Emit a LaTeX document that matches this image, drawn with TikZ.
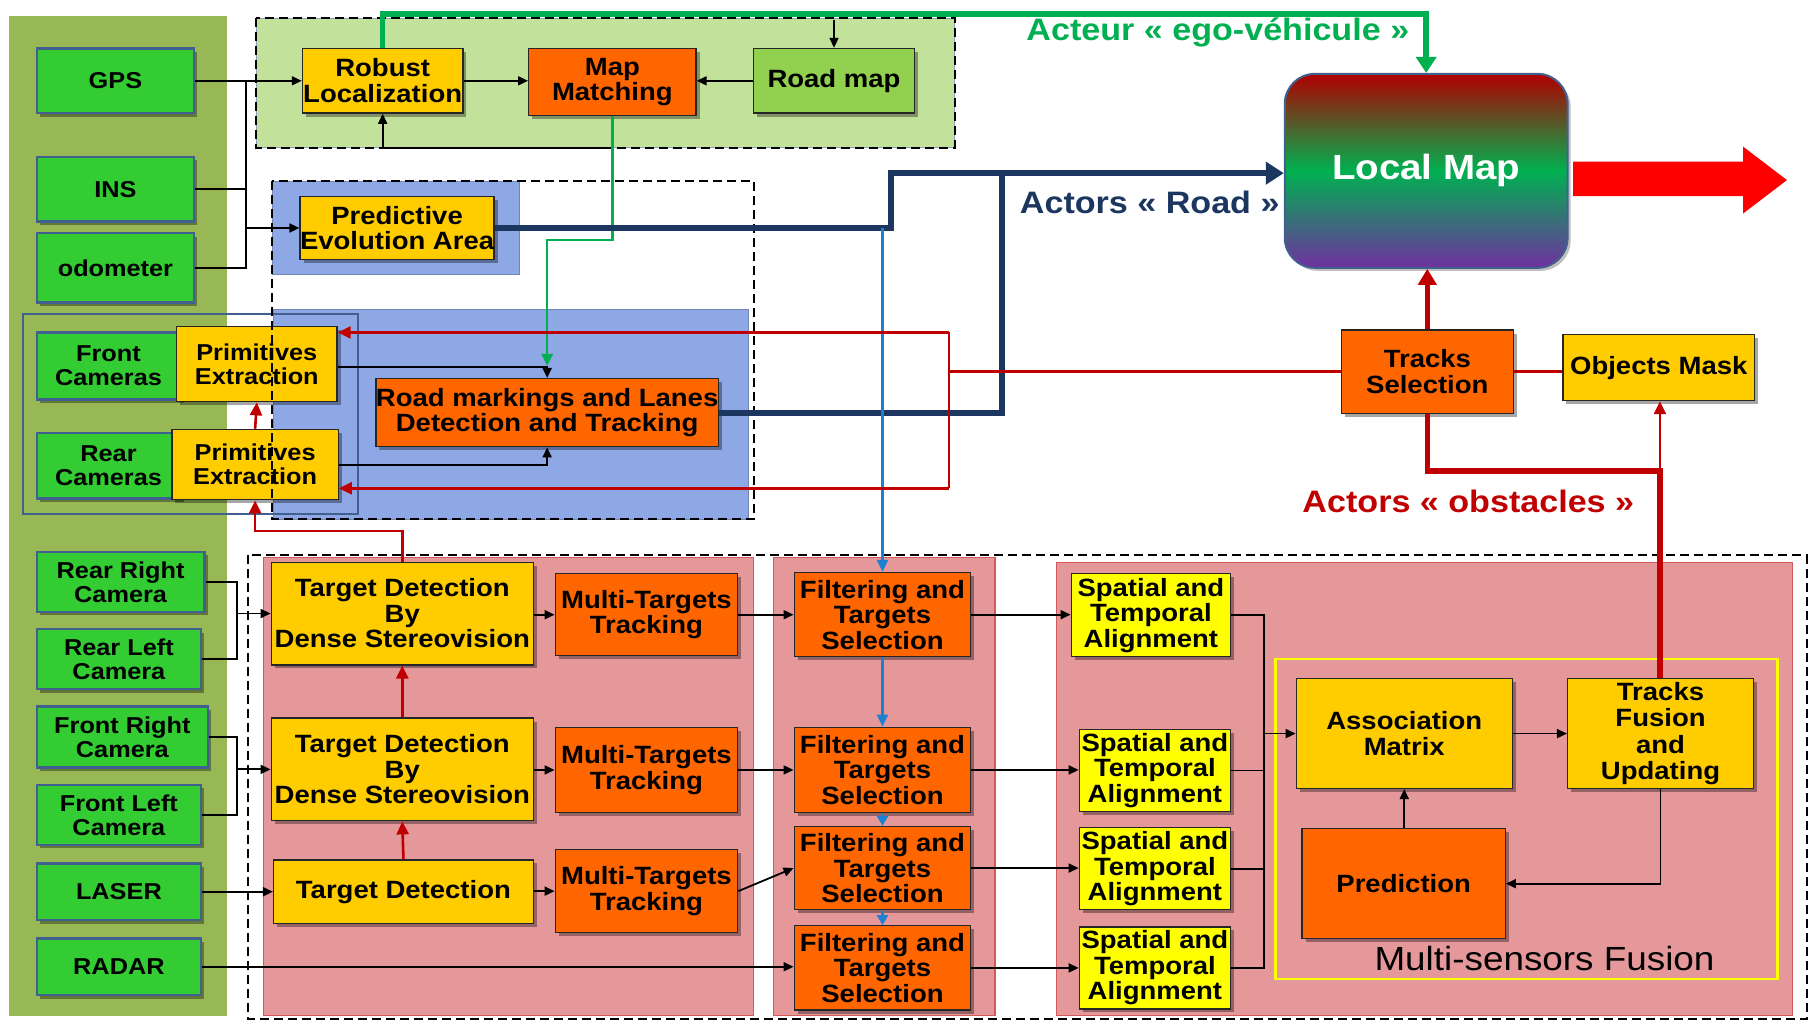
\documentclass[tikz,border=0pt]{standalone}
\usepackage{fontspec}
\setmainfont{Liberation Sans}[FakeStretch=1.1]
\usetikzlibrary{shadows,arrows.meta,calc}

\definecolor{panel}{HTML}{97B855}
\definecolor{sens}{HTML}{33CC33}
\definecolor{sensb}{HTML}{41608F}
\definecolor{gold}{HTML}{FFCC00}
\definecolor{orng}{HTML}{FF6600}
\definecolor{yel}{HTML}{FFFF00}
\definecolor{roadmap}{HTML}{92D050}
\definecolor{locbg}{HTML}{C2E19B}
\definecolor{bluebg}{HTML}{8DA8E4}
\definecolor{pink}{HTML}{E4989A}
\definecolor{pinkb}{HTML}{D25A5A}
\definecolor{navy}{HTML}{1C375F}
\definecolor{dred}{HTML}{C00000}
\definecolor{egog}{HTML}{00B050}
\definecolor{lblue}{HTML}{1E80D2}
\definecolor{lmtop}{HTML}{B00000}
\definecolor{lmmid}{HTML}{00B050}
\definecolor{lmbot}{HTML}{7030A0}

\newcommand\txtA{\bfseries\fontsize{25}{25.5}\selectfont}
\newcommand\txtS{\bfseries\fontsize{23}{24}\selectfont}
\newcommand\txtL{\bfseries\fontsize{31}{33}\selectfont}

\begin{document}
\begin{tikzpicture}[x=1.1543pt,y=-1.1543pt,
  % a node spanning the rectangle (x1,y1)--(x2,y2), given in drawing units
  span/.style n args={4}{at={({(#1+#3)/2},{(#2+#4)/2})},
    minimum width={(#3-#1)*1.1543pt}, minimum height={(#4-#2)*1.1543pt}},
  box/.style={draw=black!85, line width=1.3pt, inner sep=0pt, align=center,
    font=\txtA,
    drop shadow={shadow xshift=3.5pt,shadow yshift=-3.5pt,opacity=0.35,fill=black}},
  sensor/.style={box, fill=sens, draw=sensb, line width=2.4pt, font=\txtS},
  goldbox/.style={box, fill=gold},
  orbox/.style={box, fill=orng},
  yelbox/.style={box, fill=yel},
  ar/.style={line width=1.8pt, -{Triangle[length=10pt,width=9pt]}},
  ln/.style={line width=1.8pt},
  redthin/.style={dred, line width=2.6pt},
  redar/.style={redthin, -{Triangle[length=13pt,width=12pt]}},
  redthick/.style={dred, line width=5.5pt},
  dashbox/.style={draw=black, line width=2pt, dash pattern=on 9pt off 5pt},
  label/.style={font=\txtL, inner sep=0pt}
]
\useasboundingbox (0,0) rectangle (1568,885);

% ---- background areas ----
\fill[panel] (8,14) rectangle (197,880);
\filldraw[fill=locbg, draw=sensb!60, line width=1pt] (222,16) rectangle (827,128);
\filldraw[fill=bluebg, draw=bluebg!80!black, line width=0.6pt] (236,157) rectangle (450,238);
\filldraw[fill=bluebg, draw=bluebg!80!black, line width=0.6pt] (237,268) rectangle (648,450);
\filldraw[fill=pink, draw=pinkb, line width=1.2pt] (228,483) rectangle (653,880);
\filldraw[fill=pink, draw=pinkb, line width=1.2pt] (670,483) rectangle (862,880);
\filldraw[fill=pink, draw=pinkb, line width=1.2pt] (915,487) rectangle (1553,880);
\draw[yel, line width=2.4pt] (1105,571) rectangle (1540,848);
\draw[sensb, line width=2.2pt] (20,272) rectangle (310,445);

% ---- sensors ----
\node[sensor, span={32}{42}{168}{98}] (gps) {GPS};
\node[sensor, span={32}{136}{168}{192}] (ins) {INS};
\node[sensor, span={32}{202}{168}{262}] (odo) {odometer};
\node[sensor, span={32}{288}{156}{346}] (fcam) {Front\\Cameras};
\node[sensor, span={32}{375}{156}{432}] (rcam) {Rear\\Cameras};
\node[sensor, span={32}{478}{177}{530}] (rrc) {Rear Right\\Camera};
\node[sensor, span={32}{545}{174}{597}] (rlc) {Rear Left\\Camera};
\node[sensor, span={32}{612}{180}{665}] (frc) {Front Right\\Camera};
\node[sensor, span={32}{680}{174}{732}] (flc) {Front Left\\Camera};
\node[sensor, span={32}{748}{174}{797}] (laser) {LASER};
\node[sensor, span={32}{813}{174}{862}] (radar) {RADAR};

% ---- processing blocks ----
\node[goldbox, font=\txtS, span={153}{283}{292}{348}] (pef) {Primitives\\Extraction};
\node[goldbox, font=\txtS, span={149}{372}{293}{433}] (per) {Primitives\\Extraction};
\node[goldbox, span={262}{42}{401}{98}] (rl) {Robust\\Localization};
\node[orbox, span={458}{42}{603}{100}] (mm) {Map\\Matching};
\node[box, fill=roadmap, span={653}{42}{792}{98}] (rm) {Road map};
\node[goldbox, span={260}{170}{428}{225}] (pea) {Predictive\\Evolution Area};
\node[orbox, span={326}{328}{622}{387}] (rmk) {Road markings and Lanes\\Detection and Tracking};

\node[goldbox, span={235}{487}{462}{576}] (td1) {Target Detection\\By\\Dense Stereovision};
\node[orbox, span={481}{497}{639}{568}] (mt1) {Multi-Targets\\Tracking};
\node[goldbox, span={235}{622}{462}{711}] (td2) {Target Detection\\By\\Dense Stereovision};
\node[orbox, span={481}{630}{639}{704}] (mt2) {Multi-Targets\\Tracking};
\node[goldbox, span={237}{745}{462}{800}] (td3) {Target Detection};
\node[orbox, span={481}{736}{639}{808}] (mt3) {Multi-Targets\\Tracking};

\node[orbox, span={688}{496}{841}{569}] (f1) {Filtering and\\Targets\\Selection};
\node[orbox, span={688}{630}{841}{704}] (f2) {Filtering and\\Targets\\Selection};
\node[orbox, span={688}{716}{841}{788}] (f3) {Filtering and\\Targets\\Selection};
\node[orbox, span={688}{802}{841}{875}] (f4) {Filtering and\\Targets\\Selection};

\node[yelbox, span={928}{497}{1066}{569}] (s1) {Spatial and\\Temporal\\Alignment};
\node[yelbox, span={935}{632}{1066}{703}] (s2) {Spatial and\\Temporal\\Alignment};
\node[yelbox, span={935}{717}{1066}{788}] (s3) {Spatial and\\Temporal\\Alignment};
\node[yelbox, span={935}{803}{1066}{874}] (s4) {Spatial and\\Temporal\\Alignment};

\node[goldbox, span={1123}{588}{1310}{683}] (am) {Association\\Matrix};
\node[goldbox, span={1358}{588}{1519}{683}, font=\bfseries\fontsize{25}{26.5}\selectfont] (tf) {Tracks\\Fusion\\and\\Updating};
\node[orbox, span={1128}{718}{1304}{813}] (pred) {Prediction};
\node[label, text=black, font=\fontsize{33.5}{36}\selectfont] (msf) at (1338,830) {Multi-sensors Fusion};

\node[orbox, span={1162}{286}{1311}{358}] (ts) {Tracks\\Selection};
\node[goldbox, span={1354}{290}{1520}{347}] (om) {Objects Mask};

\node[span={1113}{64}{1358}{232}, inner sep=0pt, rounded corners=30pt,
  top color=lmtop, bottom color=lmbot, middle color=lmmid,
  draw=sensb, line width=2pt, text=white, font=\bfseries\fontsize{35}{36}\selectfont,
  drop shadow={shadow xshift=3pt,shadow yshift=-3pt,opacity=0.25,fill=black}] (lm) {Local Map};

% ---- dashed groups ----
\draw[dashbox] (222,16) rectangle (827,128);
\draw[dashbox] (236,157) rectangle (653,450);
\draw[dashbox] (215,481) rectangle (1565,883);

% ---- output arrow ----
\fill[red] ($(lm.east)+(4,-8)$) -- (1510,140) -- (1510,127) -- (1548,156)
  -- (1510,185) -- (1510,170) -- ($(lm.east)+(4,22)$) -- cycle;

% ---- ego-vehicle branch ----
\coordinate (egy) at (0,12);
\draw[egog, line width=5.5pt, -{Triangle[length=16pt,width=20pt]}]
  (rl.north) -- (rl.north |- egy) -| (lm.north);
\draw[ar] (rm.north |- 0,17) -- (rm.north);
\node[label, text=egog] (lego) at (1055,28) {Acteur « ego-véhicule »};

% ---- localisation ----
\coordinate (jx) at (213,70);
\draw[ar] (gps.east |- jx) -- (rl.west |- jx);
\draw[ln] (ins.east) -- (ins.east -| jx);
\draw[ln] (odo.east) -| (jx);
\draw[ar] (jx |- pea.west) -- (pea.west);
\draw[ar] (rl.east) -- (mm.west |- rl.east);
\draw[ar] (rm.west) -- (mm.east |- rm.west);
\draw[ar] (mm.south |- 0,128) -| (rl.south);

% ---- road markings ----
\draw[egog, line width=2.6pt, -{Triangle[length=12pt,width=11pt]}]
  (mm.south) -- (mm.south |- 0,208) -| (rmk.north |- 0,317);
\draw[ar] (pef.east |- 0,318) -| (rmk.north);
\draw[ar] (per.east |- 0,403) -| (rmk.south);

% ---- road actors ----
\coordinate (nvA) at (772,150);
\coordinate (nvB) at (868,150);
\draw[navy, line width=6pt, line join=miter] (pea.east) -- (pea.east -| nvA) -- (nvA) -- (nvB);
\draw[navy, line width=6pt, line join=miter, -{Triangle[length=18pt,width=22pt]}]
  (rmk.east) -- (rmk.east -| nvB) -- (nvB) -- (lm.west |- nvB);
\node[label, text=navy] (lroad) at (996,175) {Actors « Road »};

% ---- filtering chain ----
\draw[lblue, line width=2.6pt, -{Triangle[length=12pt,width=11pt]}] (f1.north |- pea.east) -- (f1.north);
\draw[lblue, line width=2.6pt, -{Triangle[length=12pt,width=11pt]}] (f1.south) -- (f2.north);
\draw[lblue, line width=2.6pt, -{Triangle[length=10pt,width=11pt]}] (f2.south) -- (f3.north);
\draw[lblue, line width=2.6pt, -{Triangle[length=10pt,width=11pt]}] (f3.south) -- (f4.north);

% ---- obstacle feedback ----
\coordinate (rj) at (822,322);
\draw[redthin] (ts.west) -- (ts.west -| rj);
\draw[redthin] (rj |- 0,288) -- (rj |- 0,423);
\draw[redar] (rj |- 0,288) -- (pef.east |- 0,288);
\draw[redar] (rj |- 0,423) -- (per.east |- 0,423);
\draw[redthin] (ts.east) -- (om.west |- ts.east);
\draw[redthick, -{Triangle[length=16pt,width=18pt]}] (ts.north) -- (ts.north |- lm.south);
\coordinate (ob) at (1438,408);
\draw[redthick, line join=miter] (tf.north -| ob) -- (ob) -- (ob -| ts.south) -- (ts.south);
\draw[redar] (ob) -- (ob |- om.south);
\node[label, text=dred] (lobs) at (1272,434) {Actors « obstacles »};

\draw[redar] (td1.north) -- (td1.north |- 0,460) -| (per.south);
\draw[redar] (per.north) -- (pef.south);
\draw[redar] (td2.north) -- (td1.south);
\draw[redar] (td3.north) -- (td2.south);

% ---- sensors to detection ----
\coordinate (cx) at (205,531);
\draw[ln] (rrc.east) -| (cx) |- (rlc.east);
\draw[ar] (cx |- td1.west) -- (td1.west);
\draw[ln] (frc.east) -| (cx |- frc.east) |- (flc.east);
\draw[ar] (cx |- td2.west) -- (td2.west);
\draw[ar] (laser.east) -- (td3.west |- laser.east);
\draw[ar] (radar.east) -- (f4.west |- radar.east);

\draw[ar] (td1.east |- mt1.west) -- (mt1.west);
\draw[ar] (td2.east |- mt2.west) -- (mt2.west);
\draw[ar] (td3.east |- mt3.west) -- (mt3.west);
\draw[ar] (mt1.east) -- (f1.west |- mt1.east);
\draw[ar] (mt2.east) -- (f2.west |- mt2.east);
\draw[ar] (mt3.east) -- (f3.west);

\draw[ar] (f1.east) -- (s1.west |- f1.east);
\draw[ar] (f2.east) -- (s2.west |- f2.east);
\draw[ar] (f3.east) -- (s3.west |- f3.east);
\draw[ar] (f4.east) -- (s4.west |- f4.east);

% ---- fusion ----
\coordinate (bus) at (1095,635);
\draw[ln] (s1.east) -| (bus |- s4.east) -- (s4.east);
\draw[ln] (s2.east) -- (s2.east -| bus);
\draw[ln] (s3.east) -- (s3.east -| bus);
\draw[ar] (bus |- am.west) -- (am.west);
\draw[ar] (am.east) -- (tf.west |- am.east);
\draw[ar] (pred.north -| am.south) -- (am.south);
\draw[ar] (tf.south) |- (pred.east);
\end{tikzpicture}
\end{document}
